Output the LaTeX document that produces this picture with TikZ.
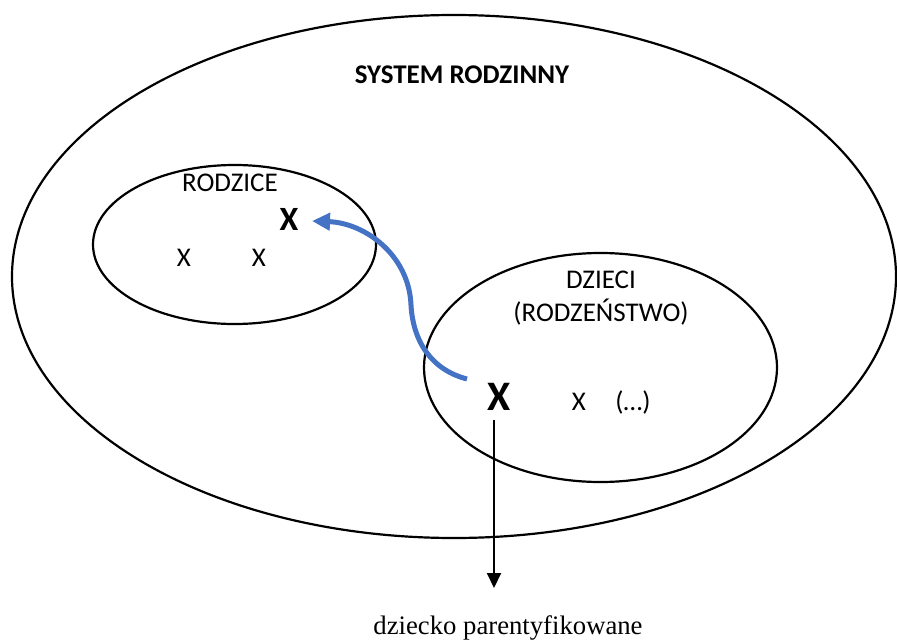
\documentclass[tikz,border=0pt]{standalone}
\usepackage{fontspec}
\setmainfont{Carlito}
\newfontfamily\serifl{Liberation Serif}
\usetikzlibrary{shapes.geometric,arrows.meta}
\definecolor{officeblue}{HTML}{4472C4}
\tikzset{
  oval/.style={draw=black, line width=2.2pt, ellipse, inner sep=0pt},
  lbl/.style={inner sep=0pt, anchor=base, font=\fontsize{27}{33.3}\selectfont},
  bigx/.style={inner sep=0pt, anchor=base},
}
\begin{document}
\begin{tikzpicture}[x=1pt,y=-1pt]
\useasboundingbox (0,0) rectangle (897,642);
% ellipses
\node[oval, minimum width=884pt, minimum height=523pt] (sys) at (454,276.5) {};
\node[oval, minimum width=283pt, minimum height=159pt] (par) at (234.5,244.5) {};
\node[oval, minimum width=353pt, minimum height=229pt] (kids) at (600.5,367.5) {};
% texts
\node[lbl, font=\fontsize{27}{31}\selectfont\bfseries] (title) at (462,83.5) {SYSTEM RODZINNY};
\node[lbl] (ptitle) at (230,191.7) {RODZICE};
\node[lbl] (p1) at (184,266.5) {X};
\node[lbl] (p2) at (259,266.5) {X};
\node[bigx, font=\fontsize{34}{40}\selectfont\bfseries] (xp) at (289,230) {X};
\node[lbl, align=center, anchor=base] (ktitle) at (601,321.7) {DZIECI\\(RODZEŃSTWO)};
\node[bigx, font=\fontsize{42}{50}\selectfont\bfseries] (xc) at (499,410) {X};
\node[lbl] (k1) at (579,410) {X};
\node[lbl] (k2) at (633,410) {(…)};
\node[inner sep=0pt, anchor=base, font=\serifl\fontsize{26.7}{31}\selectfont] (lab) at (508,634.5) {dziecko parentyfikowane};
% connectors
\coordinate (bstart) at (467,379);
\coordinate (bend) at (312,221);
\draw[officeblue, line width=5pt, -{Triangle[length=18pt,width=17pt]}]
  (bstart) .. controls (432,370) and (413,342) .. (411,305)
  .. controls (409,255) and (365,223) .. (bend);
\coordinate (tip) at (494,588);
\draw[line width=2pt, shorten <=10pt, -{Triangle[length=15pt,width=14pt]}] ([xshift=-5pt]xc.south) -- (tip);
\end{tikzpicture}
\end{document}
